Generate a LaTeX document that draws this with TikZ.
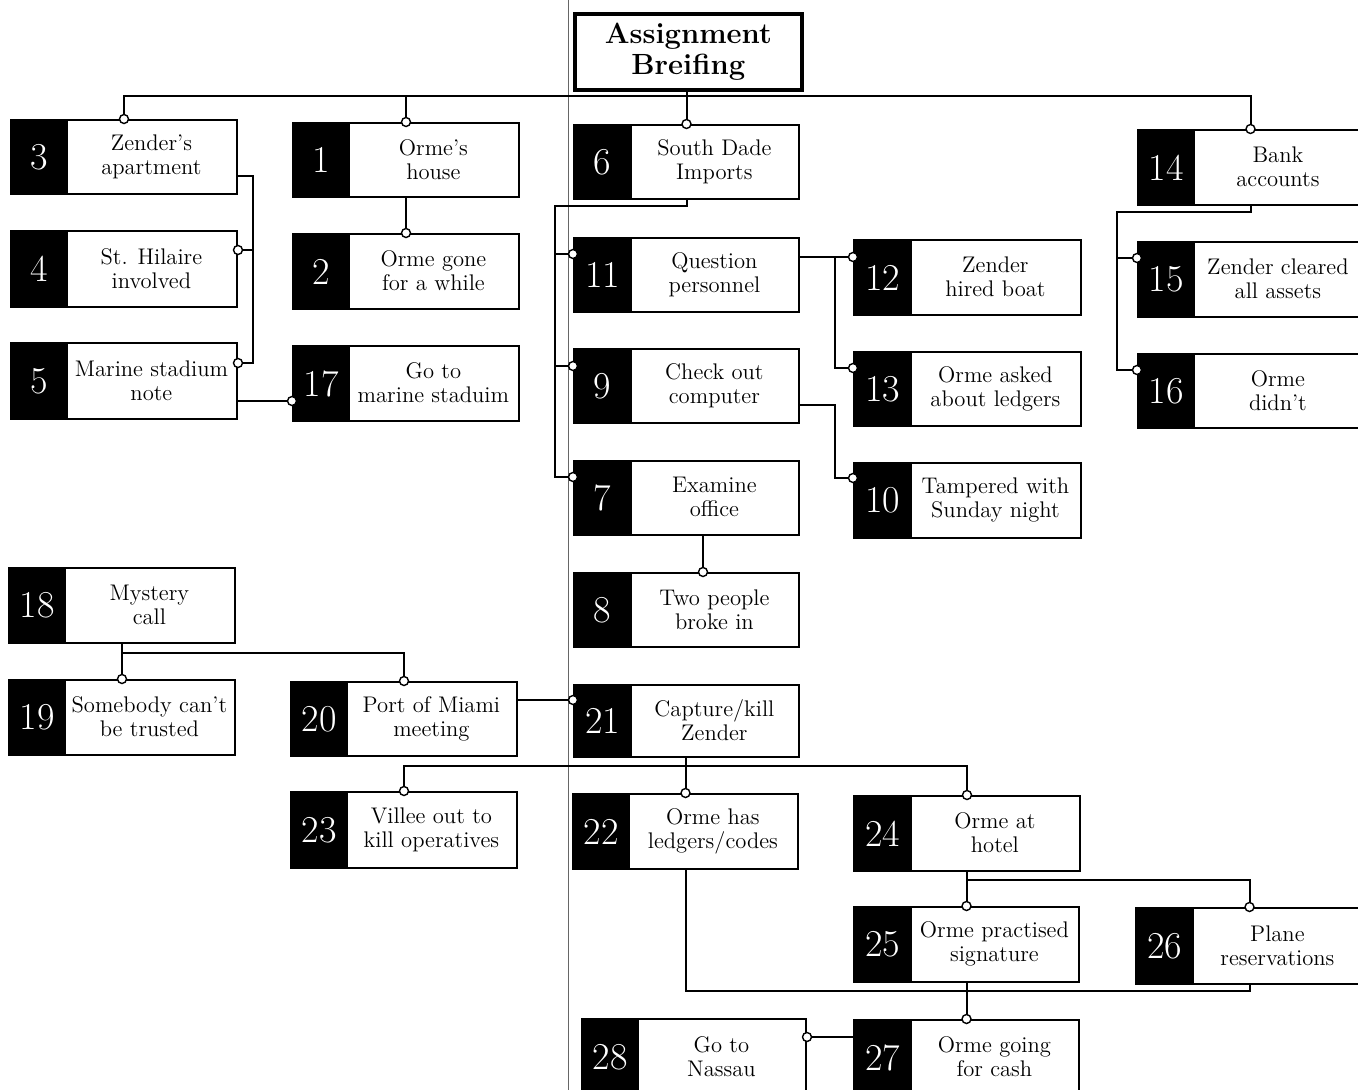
\documentclass[tikz,border=0pt]{standalone}
\usetikzlibrary{calc}
\newcommand\evbox[8]{%
  \pgfmathsetmacro\evwa{(#4-#2)*0.5}%
  \pgfmathsetmacro\evwb{(#5-#4)*0.5}%
  \pgfmathsetmacro\evwc{(#5-#2)*0.5}%
  \pgfmathsetmacro\evh{(#6-#3)*0.5}%
  \node[boxframe, minimum width=\evwc pt, minimum height=\evh pt] (#1) at (#2,#3) {};
  \node[numpart, minimum width=\evwa pt, minimum height=\evh pt] (n#1) at (#2,#3) {#7};
  \node[txtpart, minimum width=\evwb pt, minimum height=\evh pt] (t#1) at (#4,#3) {#8};
}
\begin{document}
\begin{tikzpicture}[x=0.5pt,y=-0.5pt,
  wire/.style={line width=1pt},
  boxframe/.style={draw, line width=1pt, inner sep=0pt, anchor=north west},
  numpart/.style={fill=black, draw=black, line width=1pt, text=white, inner sep=0pt, anchor=north west, font=\fontsize{19}{19}\selectfont},
  txtpart/.style={inner sep=0pt, anchor=north west, align=center, font=\fontsize{11.3}{12}\selectfont},
  dot/.style={circle, draw, fill=white, line width=0.7pt, inner sep=0pt, minimum size=4.5pt},
]
\path[use as bounding box] (0,0) rectangle (1358,1090);
\clip (0,0) rectangle (1358,1090);

% gutter line of the scanned page
\draw[line width=0.4pt, black!60] (568,0) -- (568,1090);

% title
\node[draw, line width=1.8pt, minimum width=113.5pt, minimum height=38pt, inner sep=0pt,
  anchor=north west, align=center, font=\fontsize{14.6}{15.2}\selectfont\bfseries] (ab) at (573,12) {Assignment\\Breifing};

% boxes: name, left, top, split, right, bottom, number, text
\evbox{b3}{10}{119}{66}{236}{193}{3}{Zender's\\apartment}
\evbox{b4}{10}{230}{66}{236}{306}{4}{St. Hilaire\\involved}
\evbox{b5}{10}{342}{66}{236}{418}{5}{Marine stadium\\note}
\evbox{b1}{292}{122}{348}{518}{196}{1}{Orme's\\house}
\evbox{b2}{292}{233}{348}{518}{308}{2}{Orme gone\\for a while}
\evbox{b17}{292}{345}{348}{518}{420}{17}{Go to\\marine staduim}
\evbox{b6}{573}{124}{630}{798}{198}{6}{South Dade\\Imports}
\evbox{b11}{573}{237}{630}{798}{311}{11}{Question\\personnel}
\evbox{b9}{573}{348}{630}{798}{422}{9}{Check out\\computer}
\evbox{b7}{573}{460}{630}{798}{534}{7}{Examine\\office}
\evbox{b8}{573}{572}{630}{798}{646}{8}{Two people\\broke in}
\evbox{b21}{573}{684}{630}{798}{756}{21}{Capture/kill\\Zender}
\evbox{b12}{853}{239}{910}{1080}{314}{12}{Zender\\hired boat}
\evbox{b13}{853}{351}{910}{1080}{425}{13}{Orme asked\\about ledgers}
\evbox{b10}{853}{462}{910}{1080}{537}{10}{Tampered with\\Sunday night}
\evbox{b14}{1137}{129}{1193}{1362}{204}{14}{Bank\\accounts}
\evbox{b15}{1137}{241}{1193}{1362}{316}{15}{Zender cleared\\all assets}
\evbox{b16}{1137}{353}{1193}{1362}{427}{16}{Orme\\didn't}
\evbox{b18}{8}{567}{64}{234}{642}{18}{Mystery\\call}
\evbox{b19}{8}{679}{64}{234}{754}{19}{Somebody can't\\be trusted}
\evbox{b20}{290}{681}{346}{516}{755}{20}{Port of Miami\\meeting}
\evbox{b23}{290}{791}{346}{516}{867}{23}{Villee out to\\kill operatives}
\evbox{b22}{572}{793}{628}{797}{868}{22}{Orme has\\ledgers/codes}
\evbox{b24}{853}{795}{910}{1079}{870}{24}{Orme at\\hotel}
\evbox{b25}{853}{906}{910}{1078}{981}{25}{Orme practised\\signature}
\evbox{b26}{1135}{907}{1192}{1362}{983}{26}{Plane\\reservations}
\evbox{b27}{853}{1019}{910}{1078}{1094}{27}{Orme going\\for cash}
\evbox{b28}{581}{1018}{637}{805}{1094}{28}{Go to\\Nassau}

% helper coordinates
\coordinate (bus) at (0,96);
\coordinate (k3) at (253,176);
\coordinate (k4) at (253,250);
\coordinate (k5) at (253,363);
\coordinate (k17) at (0,401);
\coordinate (k6) at (555,206);
\coordinate (k11) at (555,254);
\coordinate (k9) at (555,366);
\coordinate (k7) at (555,477);
\coordinate (k8) at (703,0);
\coordinate (m12) at (835,257);
\coordinate (m13) at (835,368);
\coordinate (m9) at (835,405);
\coordinate (m10) at (835,478);
\coordinate (q14) at (1117,212);
\coordinate (q15) at (1117,258);
\coordinate (q16) at (1117,370);
\coordinate (r18) at (0,653);
\coordinate (r21) at (0,700);
\coordinate (s24) at (0,766);
\coordinate (u26) at (0,880);
\coordinate (v26) at (0,991);
\coordinate (w28) at (0,1037);

% connectors
\draw[wire] (b3.north) |- (b14.north |- bus) -- (b14.north);
\draw[wire] (b6.north |- ab.south) -- (b6.north);
\draw[wire] (b1.north) -- (b1.north |- bus);
\draw[wire] (b1.south) -- (b2.north);
\draw[wire] (b3.east |- k3) -- (k3) -- (k5) -- (b5.east |- k5);
\draw[wire] (k4) -- (b4.east |- k4);
\draw[wire] (b5.east |- k17) -- (b17.west |- k17);
\draw[wire] (b6.south) |- (k6) -- (k7) -- (b7.west |- k7);
\draw[wire] (k11) -- (b11.west |- k11);
\draw[wire] (k9) -- (b9.west |- k9);
\draw[wire] (b7.south -| k8) -- (b8.north -| k8);
\draw[wire] (b11.east |- m12) -- (b12.west |- m12);
\draw[wire] (m12) -- (m13) -- (b13.west |- m13);
\draw[wire] (b9.east |- m9) -- (m9) -- (m10) -- (b10.west |- m10);
\draw[wire] (b14.south) |- (q14) -- (q16) -- (b16.west |- q16);
\draw[wire] (q15) -- (b15.west |- q15);
\draw[wire] (b18.south) |- (b20.north |- r18) -- (b20.north);
\draw[wire] (b19.north |- b18.south) -- (b19.north);
\draw[wire] (b20.east |- r21) -- (b21.west |- r21);
\draw[wire] (b23.north) |- (b24.north |- s24) -- (b24.north);
\draw[wire] (b22.north |- b21.south) -- (b22.north);
\draw[wire] (b25.north |- b24.south) -- (b25.north);
\draw[wire] (b25.north |- u26) -- (b26.north |- u26) -- (b26.north);
\draw[wire] (b22.south) |- (b26.south |- v26) -- (b26.south);
\draw[wire] (b27.north |- b25.south) -- (b27.north);
\draw[wire] (b27.west |- w28) -- (b28.east |- w28);

% end dots
\foreach \p in {b3.north, b1.north, b6.north, b14.north, b2.north, b19.north, b20.north,
  b23.north, b22.north, b24.north, b25.north, b26.north, b27.north}
  \node[dot] at (\p) {};
\node[dot] at (b4.east |- k4) {};
\node[dot] at (b5.east |- k5) {};
\node[dot] at (b17.west |- k17) {};
\node[dot] at (b11.west |- k11) {};
\node[dot] at (b9.west |- k9) {};
\node[dot] at (b7.west |- k7) {};
\node[dot] at (b8.north -| k8) {};
\node[dot] at (b12.west |- m12) {};
\node[dot] at (b13.west |- m13) {};
\node[dot] at (b10.west |- m10) {};
\node[dot] at (b15.west |- q15) {};
\node[dot] at (b16.west |- q16) {};
\node[dot] at (b21.west |- r21) {};
\node[dot] at (b28.east |- w28) {};
\end{tikzpicture}
\end{document}
